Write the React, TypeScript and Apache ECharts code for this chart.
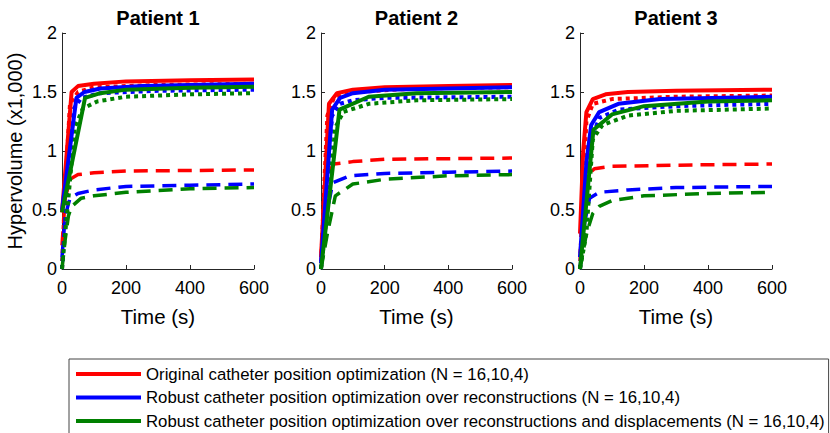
import React, { useEffect, useRef } from "react";
import * as echarts from "echarts";

// ---------- data (time s, hypervolume x1000) ----------
const patients = ["Patient 1", "Patient 2", "Patient 3"];
const methodNames = [
  "Original catheter position optimization (N = 16,10,4)",
  "Robust catheter position optimization over reconstructions (N = 16,10,4)",
  "Robust catheter position optimization over reconstructions and displacements (N = 16,10,4)",
];
const xTicks = [0, 200, 400, 600];
const yTicks = [0, 0.5, 1, 1.5, 2];

// Patient 1
const p1RedSolid = [[0, 0.48], [30, 1.5], [50, 1.55], [100, 1.57], [200, 1.59], [400, 1.6], [600, 1.605]];
const p1BlueSolid = [[0, 0.5], [45, 1.45], [70, 1.5], [120, 1.53], [250, 1.55], [400, 1.56], [600, 1.57]];
const p1GreenSolid = [[0, 0.48], [72, 1.45], [120, 1.49], [200, 1.52], [400, 1.535], [600, 1.545]];
const p1RedDotted = [[0, 0], [10, 0.7], [25, 1.4], [50, 1.5], [100, 1.54], [300, 1.56], [600, 1.57]];
const p1BlueDotted = [[0, 0], [12, 0.5], [35, 1.35], [60, 1.45], [120, 1.49], [300, 1.51], [600, 1.52]];
const p1GreenDotted = [[0, 0], [15, 0.45], [40, 1.2], [65, 1.36], [110, 1.42], [200, 1.46], [400, 1.48], [600, 1.49]];
const p1RedDashed = [[0, 0.2], [10, 0.6], [25, 0.76], [50, 0.8], [100, 0.815], [200, 0.83], [400, 0.835], [600, 0.84]];
const p1BlueDashed = [[0, 0.1], [10, 0.45], [25, 0.6], [50, 0.64], [100, 0.67], [200, 0.7], [400, 0.71], [600, 0.72]];
const p1GreenDashed = [[0, 0], [10, 0.25], [20, 0.45], [30, 0.53], [60, 0.6], [100, 0.62], [200, 0.65], [400, 0.68], [600, 0.69]];

// Patient 2
const p2RedSolid = [[0, 0.1], [25, 1.4], [50, 1.49], [100, 1.52], [200, 1.54], [400, 1.55], [600, 1.56]];
const p2BlueSolid = [[0, 0.05], [35, 1.35], [60, 1.45], [100, 1.49], [200, 1.52], [400, 1.53], [600, 1.54]];
const p2GreenSolid = [[0, 0], [58, 1.35], [150, 1.46], [300, 1.49], [600, 1.5]];
const p2RedDotted = [[0, 0], [10, 0.7], [20, 1.3], [40, 1.45], [100, 1.5], [300, 1.53], [600, 1.54]];
const p2BlueDotted = [[0, 0], [15, 0.6], [35, 1.3], [60, 1.4], [100, 1.43], [200, 1.45], [600, 1.46]];
const p2GreenDotted = [[0, 0], [20, 0.5], [45, 1.2], [70, 1.33], [150, 1.4], [300, 1.43], [600, 1.44]];
const p2RedDashed = [[0, 0.1], [10, 0.5], [20, 0.8], [40, 0.89], [100, 0.91], [200, 0.93], [600, 0.94]];
const p2BlueDashed = [[0, 0], [20, 0.5], [37, 0.73], [90, 0.79], [200, 0.81], [400, 0.82], [600, 0.83]];
const p2GreenDashed = [[0, 0], [20, 0.3], [45, 0.62], [100, 0.72], [200, 0.76], [400, 0.79], [600, 0.8]];

// Patient 3
const p3RedSolid = [[0, 0.3], [10, 1.0], [20, 1.33], [40, 1.44], [80, 1.48], [150, 1.5], [300, 1.51], [600, 1.52]];
const p3BlueSolid = [[0, 0.1], [20, 0.9], [35, 1.22], [60, 1.33], [120, 1.4], [250, 1.44], [600, 1.46]];
const p3GreenSolid = [[0, 0], [42, 1.18], [100, 1.31], [200, 1.38], [400, 1.42], [600, 1.43]];
const p3RedDotted = [[0, 0], [8, 0.6], [20, 1.25], [40, 1.4], [100, 1.44], [300, 1.46], [600, 1.47]];
const p3BlueDotted = [[0, 0], [15, 0.5], [30, 1.05], [60, 1.28], [120, 1.35], [300, 1.38], [600, 1.4]];
const p3GreenDotted = [[0, 0], [20, 0.3], [40, 1.1], [70, 1.22], [150, 1.3], [300, 1.34], [600, 1.36]];
const p3RedDashed = [[0, 0.1], [10, 0.5], [25, 0.8], [45, 0.85], [100, 0.87], [300, 0.88], [600, 0.89]];
const p3BlueDashed = [[0, 0], [15, 0.4], [30, 0.6], [60, 0.65], [150, 0.67], [300, 0.69], [600, 0.7]];
const p3GreenDashed = [[0, 0], [20, 0.3], [40, 0.47], [60, 0.53], [100, 0.58], [200, 0.62], [400, 0.64], [600, 0.65]];

const panelData = [
  [[p1RedSolid, p1BlueSolid, p1GreenSolid], [p1RedDotted, p1BlueDotted, p1GreenDotted], [p1RedDashed, p1BlueDashed, p1GreenDashed]],
  [[p2RedSolid, p2BlueSolid, p2GreenSolid], [p2RedDotted, p2BlueDotted, p2GreenDotted], [p2RedDashed, p2BlueDashed, p2GreenDashed]],
  [[p3RedSolid, p3BlueSolid, p3GreenSolid], [p3RedDotted, p3BlueDotted, p3GreenDotted], [p3RedDashed, p3BlueDashed, p3GreenDashed]],
];

const colors = ["#ff0000", "#0000ff", "#008000"];
const FONT = '"Liberation Sans", Arial, Helvetica, sans-serif';
const AXIS = "#262626";

export default function App() {
  const ref = useRef<HTMLDivElement>(null);
  useEffect(() => {
    if (!ref.current) return;
    const chart = echarts.init(ref.current, undefined, { renderer: "svg" });
    const lefts = [62, 321, 580];
    const widths = [192, 191, 192];
    const grid = lefts.map((l, i) => ({ left: l, top: 33, width: widths[i], height: 236 }));
    const xAxis = lefts.map((_, i) => ({
      type: "value",
      gridIndex: i,
      min: xTicks[0],
      max: xTicks[xTicks.length - 1],
      interval: 200,
      axisLine: { show: true, lineStyle: { color: AXIS, width: 1 } },
      axisTick: { show: true, inside: true, length: 4, lineStyle: { color: AXIS } },
      axisLabel: { color: "#000", fontSize: 18, fontFamily: FONT, margin: 10 },
      splitLine: { show: false },
      name: "Time (s)",
      nameLocation: "middle",
      nameGap: 37,
      nameTextStyle: { color: "#000", fontSize: 20.5, fontFamily: FONT },
    }));
    const yAxis = lefts.map((_, i) => ({
      type: "value",
      gridIndex: i,
      min: yTicks[0],
      max: yTicks[yTicks.length - 1],
      interval: 0.5,
      axisLine: { show: true, lineStyle: { color: AXIS, width: 1 } },
      axisTick: { show: true, inside: true, length: 4, lineStyle: { color: AXIS } },
      axisLabel: { color: "#000", fontSize: 18, fontFamily: FONT, margin: 5 },
      splitLine: { show: false },
      name: i === 0 ? "Hypervolume (x1,000)" : "",
      nameLocation: "middle",
      nameGap: 37,
      nameTextStyle: { color: "#000", fontSize: 20, fontFamily: FONT },
    }));
    const styles: any[] = [
      { type: "solid", width: 4 },
      { type: [4, 4], width: 4 },
      { type: [14, 8], width: 3.5 },
    ];
    const styleNames = ["", " (dotted)", " (dashed)"];
    const series: any[] = [];
    panelData.forEach((panel, pi) => {
      panel.forEach((group, si) => {
        group.forEach((d, ci) => {
          series.push({
            type: "line",
            name: methodNames[ci] + styleNames[si],
            xAxisIndex: pi,
            yAxisIndex: pi,
            data: d,
            showSymbol: false,
            symbol: "none",
            color: colors[ci],
            lineStyle: { color: colors[ci], width: styles[si].width, type: styles[si].type, cap: "butt" },
            z: 2 + (2 - si),
          });
        });
      });
    });
    chart.setOption({
      animation: false,
      backgroundColor: "#fff",
      title: patients.map((p, i) => ({
        text: p,
        left: lefts[i] + widths[i] / 2,
        top: 8,
        padding: 0,
        textAlign: "center",
        textStyle: { fontSize: 20, fontWeight: "bold", color: "#000", fontFamily: FONT },
      })),
      grid,
      xAxis,
      yAxis,
      legend: {
        data: methodNames,
        orient: "vertical",
        left: 69,
        top: 359,
        height: 100,
        padding: [6, 4, 8, 7],
        itemWidth: 65,
        itemHeight: 4,
        itemGap: 5.5,
        icon: "rect",
        borderColor: "#444",
        borderWidth: 1,
        backgroundColor: "#fff",
        textStyle: { fontSize: 16.8, fontFamily: FONT, color: "#000", lineHeight: 18 },
        selectedMode: false,
      },
      series,
    });
    return () => chart.dispose();
  }, []);
  return (
    <div
      ref={ref}
      style={{ position: "absolute", left: 0, top: 0, width: 830, height: 433 }}
    />
  );
}
